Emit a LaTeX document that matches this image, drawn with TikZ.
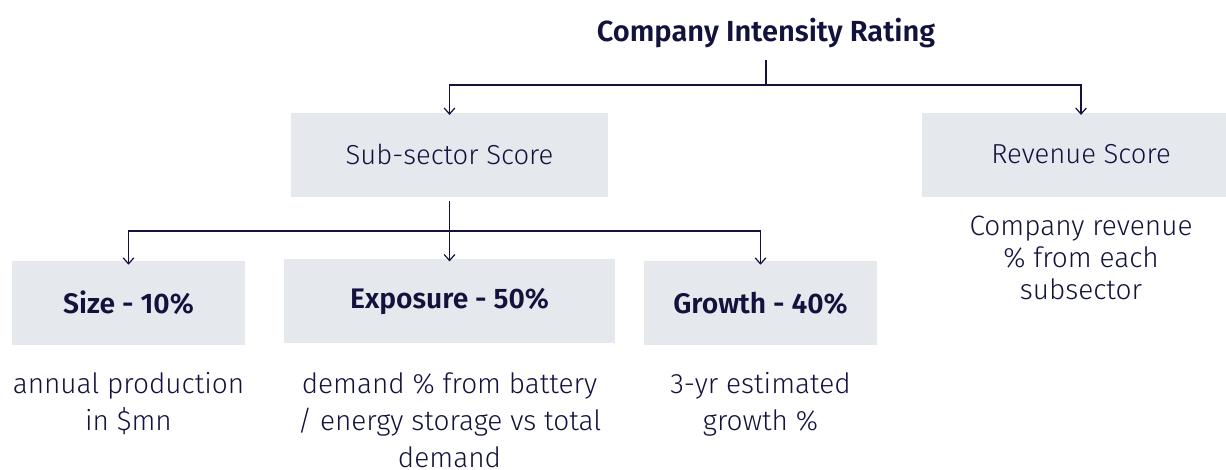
\documentclass[tikz,border=0pt]{standalone}
\usepackage{fontspec}
\setmainfont{Fira Sans Light}[BoldFont={Fira Sans SemiBold}]
\usepackage{tikz}
\usetikzlibrary{positioning,arrows.meta}
\usepackage{xcolor}
\definecolor{navy}{HTML}{12123D}
\definecolor{boxgray}{HTML}{E5E9ED}

\begin{document}
\begin{tikzpicture}[x=0.75pt,y=-0.75pt,font=\fontsize{20.6}{24}\selectfont,text=navy,
box/.style={fill=boxgray, draw=none, minimum height=63pt, inner sep=0pt},
wide/.style={box, minimum width=238pt},
narrow/.style={box, minimum width=174.75pt},
note/.style={align=center, inner sep=0pt, anchor=base},
link/.style={draw=navy, line width=0.9pt, -{Straight Barb[length=4.5pt,width=8pt]}}]
\useasboundingbox (0,0) rectangle (1226,469);
% top level
\node[font=\fontsize{21.8}{24}\selectfont\bfseries, anchor=base] (rating) at (766,41) {Company Intensity Rating};
\node[wide] (sub) at (449.5,154.5) {Sub-sector Score};
\node[wide] (rev) at (1081,154.5) {Revenue Score};
% second level
\node[narrow,font=\fontsize{21.2}{24}\selectfont] (size) at (128.5,303) {\bfseries Size - 10\%};
\node[box, minimum width=248.25pt,font=\fontsize{21.2}{24}\selectfont] (expo) at (449.5,301) {\bfseries Exposure - 50\%};
\node[narrow,font=\fontsize{21.2}{24}\selectfont] (growth) at (760.5,303) {\bfseries Growth - 40\%};
% descriptions (base = last line)
\node[note, font=\fontsize{21}{24}\selectfont] (revtxt) at (1081,299) {Company revenue\\\% from each\\subsector};
\node[note, font=\fontsize{21}{27.75}\selectfont] (sizetxt) at (128.5,430) {annual production\\in \$mn};
\node[note, font=\fontsize{21}{27.75}\selectfont] (expotxt) at (449.5,467) {demand \% from battery\\/ energy storage vs total\\demand};
\node[note, font=\fontsize{21}{27.75}\selectfont] (growtxt) at (760.5,430) {3-yr estimated\\growth \%};
% connectors
\coordinate (top) at (766,60);
\coordinate (topbar) at (766,85);
\draw[link] (top) -- (topbar) -| ([yshift=-2pt]sub.north);
\draw[link] (topbar) -| ([yshift=-2pt]rev.north);
\coordinate (midbar) at (449.5,231);
\draw[link] ([yshift=-3pt]sub.south) -- ([yshift=-2pt]expo.north);
\draw[link] (midbar) -| ([yshift=-3pt]size.north);
\draw[link] (midbar) -| ([yshift=-3pt]growth.north);
\end{tikzpicture}
\end{document}
